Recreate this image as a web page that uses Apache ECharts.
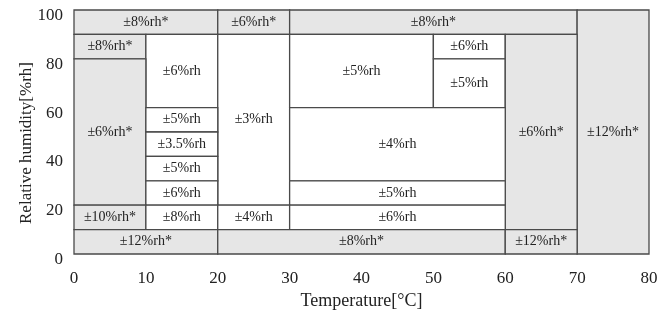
<!DOCTYPE html>
<html lang="en">
<head>
    <meta charset="UTF-8">
    <title>humidity accuracy</title>
    <script src="https://cdn.jsdelivr.net/npm/echarts@6/dist/echarts.min.js"></script>
</head>
<body style="margin:0;background:#fff;">
<div id='myChart' style='width: 664px;height:312px;'></div>
<script type="text/javascript">
    // cells of the accuracy map: temperature range, humidity range, label, shaded
    var xStart = [0, 20, 30, 70, 0, 10, 20, 30, 50, 50, 60, 0, 10, 10, 10, 10, 30, 30, 0, 10, 20, 30, 0, 20, 60];
    var xEnd   = [20, 30, 70, 80, 10, 20, 30, 50, 60, 60, 70, 10, 20, 20, 20, 20, 60, 60, 10, 20, 30, 60, 20, 60, 70];
    var yStart = [90, 90, 90, 0, 80, 60, 20, 60, 80, 60, 10, 20, 50, 40, 30, 20, 30, 20, 10, 10, 10, 10, 0, 0, 0];
    var yEnd   = [100, 100, 100, 100, 90, 90, 90, 90, 90, 80, 90, 80, 60, 50, 40, 30, 60, 30, 20, 20, 20, 20, 10, 10, 10];
    var labels = ['±8%rh*', '±6%rh*', '±8%rh*', '±12%rh*', '±8%rh*', '±6%rh', '±3%rh', '±5%rh', '±6%rh', '±5%rh',
        '±6%rh*', '±6%rh*', '±5%rh', '±3.5%rh', '±5%rh', '±6%rh', '±4%rh', '±5%rh', '±10%rh*', '±8%rh',
        '±4%rh', '±6%rh', '±12%rh*', '±8%rh*', '±12%rh*'];
    var shaded = [1, 1, 1, 1, 1, 0, 0, 0, 0, 0, 1, 1, 0, 0, 0, 0, 0, 0, 1, 0, 0, 0, 1, 1, 1];

    var font = 'Liberation Serif';

    var cells = [];
    for (var i = 0; i < labels.length; i++) {
        cells.push([xStart[i], xEnd[i], yStart[i], yEnd[i]]);
    }

    function renderCell(params, api) {
        var p0 = api.coord([api.value(0), api.value(2)]);
        var p1 = api.coord([api.value(1), api.value(3)]);
        var x = p0[0], y = p1[1];
        var w = p1[0] - p0[0], h = p0[1] - p1[1];
        return {
            type: 'group',
            children: [{
                type: 'rect',
                shape: {x: x, y: y, width: w, height: h},
                style: {
                    fill: shaded[params.dataIndex] ? '#e6e6e6' : '#ffffff',
                    stroke: '#4a4a4a',
                    lineWidth: 1.3
                }
            }, {
                type: 'text',
                x: x + w / 2,
                y: y + h / 2,
                style: {
                    text: labels[params.dataIndex],
                    align: 'center',
                    verticalAlign: 'middle',
                    font: '14px "' + font + '"',
                    fill: '#222'
                }
            }]
        };
    }

    var myChart = echarts.init(document.getElementById('myChart'));
    var option = {
        animation: false,
        grid: {left: 74, right: 15, top: 10, bottom: 58, outerBoundsMode: 'none'},
        xAxis: {
            type: 'value', min: 0, max: 80, interval: 10,
            name: 'Temperature[°C]', nameLocation: 'middle', nameGap: 38,
            nameTextStyle: {fontFamily: font, fontSize: 18, color: '#222'},
            axisLine: {show: false}, axisTick: {show: false}, splitLine: {show: false},
            axisLabel: {fontFamily: font, fontSize: 17, color: '#222', margin: 16}
        },
        yAxis: {
            type: 'value', min: 0, max: 100, interval: 20,
            name: 'Relative humidity[%rh]', nameLocation: 'middle', nameGap: 39,
            nameMoveOverlap: false,
            nameTextStyle: {fontFamily: font, fontSize: 17, color: '#222', padding: [0, 22, 0, 0]},
            axisLine: {show: false}, axisTick: {show: false}, splitLine: {show: false},
            axisLabel: {fontFamily: font, fontSize: 17, color: '#222', margin: 11,
                verticalAlign: 'top', lineHeight: 11}
        },
        series: [{
            type: 'custom',
            renderItem: renderCell,
            data: cells,
            encode: {x: [0, 1], y: [2, 3]}
        }]
    };
    myChart.setOption(option);
</script>
</body>
</html>
